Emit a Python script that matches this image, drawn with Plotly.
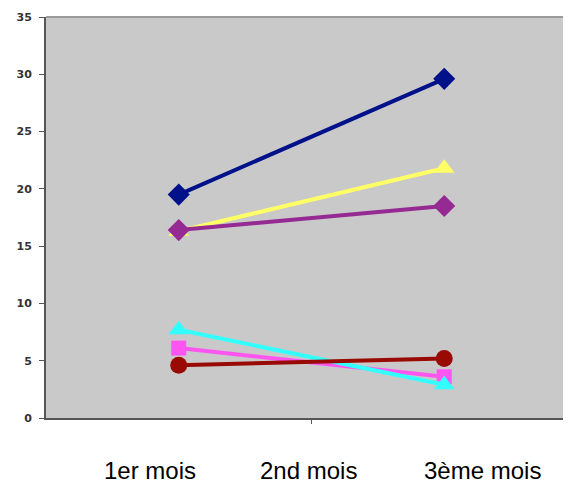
import plotly.graph_objects as go

# data
months = ["1er mois", "3ème mois"]
month_labels = ["1er mois", "2nd mois", "3ème mois"]
series_names = ["Série 1", "Série 2", "Série 3", "Série 4", "Série 5", "Série 6"]
navy_vals = [19.5, 29.6]
yellow_vals = [16.3, 21.8]
purple_vals = [16.4, 18.5]
magenta_vals = [6.1, 3.6]
cyan_vals = [7.7, 2.9]
maroon_vals = [4.6, 5.2]
y_ticks = [0, 5, 10, 15, 20, 25, 30, 35]

styles = [
    (navy_vals, "#00118a", "diamond", 17),
    (yellow_vals, "#ffff66", "triangle-up", 18),
    (purple_vals, "#952a93", "diamond", 17),
    (magenta_vals, "#ff55f0", "square", 15),
    (cyan_vals, "#33ffff", "triangle-up", 18),
    (maroon_vals, "#990a05", "circle", 17),
]

fig = go.Figure()

for name, (vals, color, symbol, size) in zip(series_names, styles):
    fig.add_trace(
        go.Scatter(
            x=[0, 1],
            y=vals,
            mode="lines+markers",
            name=name,
            line=dict(color=color, width=4),
            marker=dict(color=color, symbol=symbol, size=size, line=dict(width=0)),
            showlegend=False,
        )
    )

# category labels sit below the axis, not aligned to the data points
label_x = [0.199, 0.501, 0.834]
for txt, lx in zip(month_labels, label_x):
    fig.add_annotation(
        x=lx, y=0, xref="paper", yref="paper",
        xanchor="center", yanchor="middle",
        yshift=-52,
        text=txt, showarrow=False,
        font=dict(family="Liberation Sans, Arial, sans-serif", size=24, color="black"),
    )

# light border on the top edge of the plot area
fig.add_shape(
    type="line", xref="paper", yref="paper",
    x0=0, x1=1, y0=1, y1=1,
    line=dict(color="#9a9a9a", width=2),
)

# the page body adds an 8px offset, so the figure is sized to fit inside it
fig.update_layout(
    xaxis=dict(
        range=[-0.5, 1.47],
        tickvals=[0.5],
        ticktext=[""],
        ticks="outside",
        ticklen=4,
        tickcolor="#555555",
        showgrid=False,
        zeroline=False,
        showline=True,
        linecolor="#555555",
        linewidth=2,
        automargin=False,
    ),
    yaxis=dict(
        range=[0, 35],
        tickvals=y_ticks,
        ticks="outside",
        ticklen=5,
        tickcolor="#555555",
        showgrid=False,
        zeroline=False,
        showline=True,
        linecolor="#555555",
        linewidth=2,
        automargin=False,
        ticklabelstandoff=5,
        tickfont=dict(family="DejaVu Sans, Arial, sans-serif", size=11, color="#333333", weight="bold"),
    ),
    paper_bgcolor="white",
    plot_bgcolor="#c9c9c9",
    width=563,
    height=480,
    margin=dict(l=38, r=2, t=9, b=70),
)

fig.write_html("out.html")
